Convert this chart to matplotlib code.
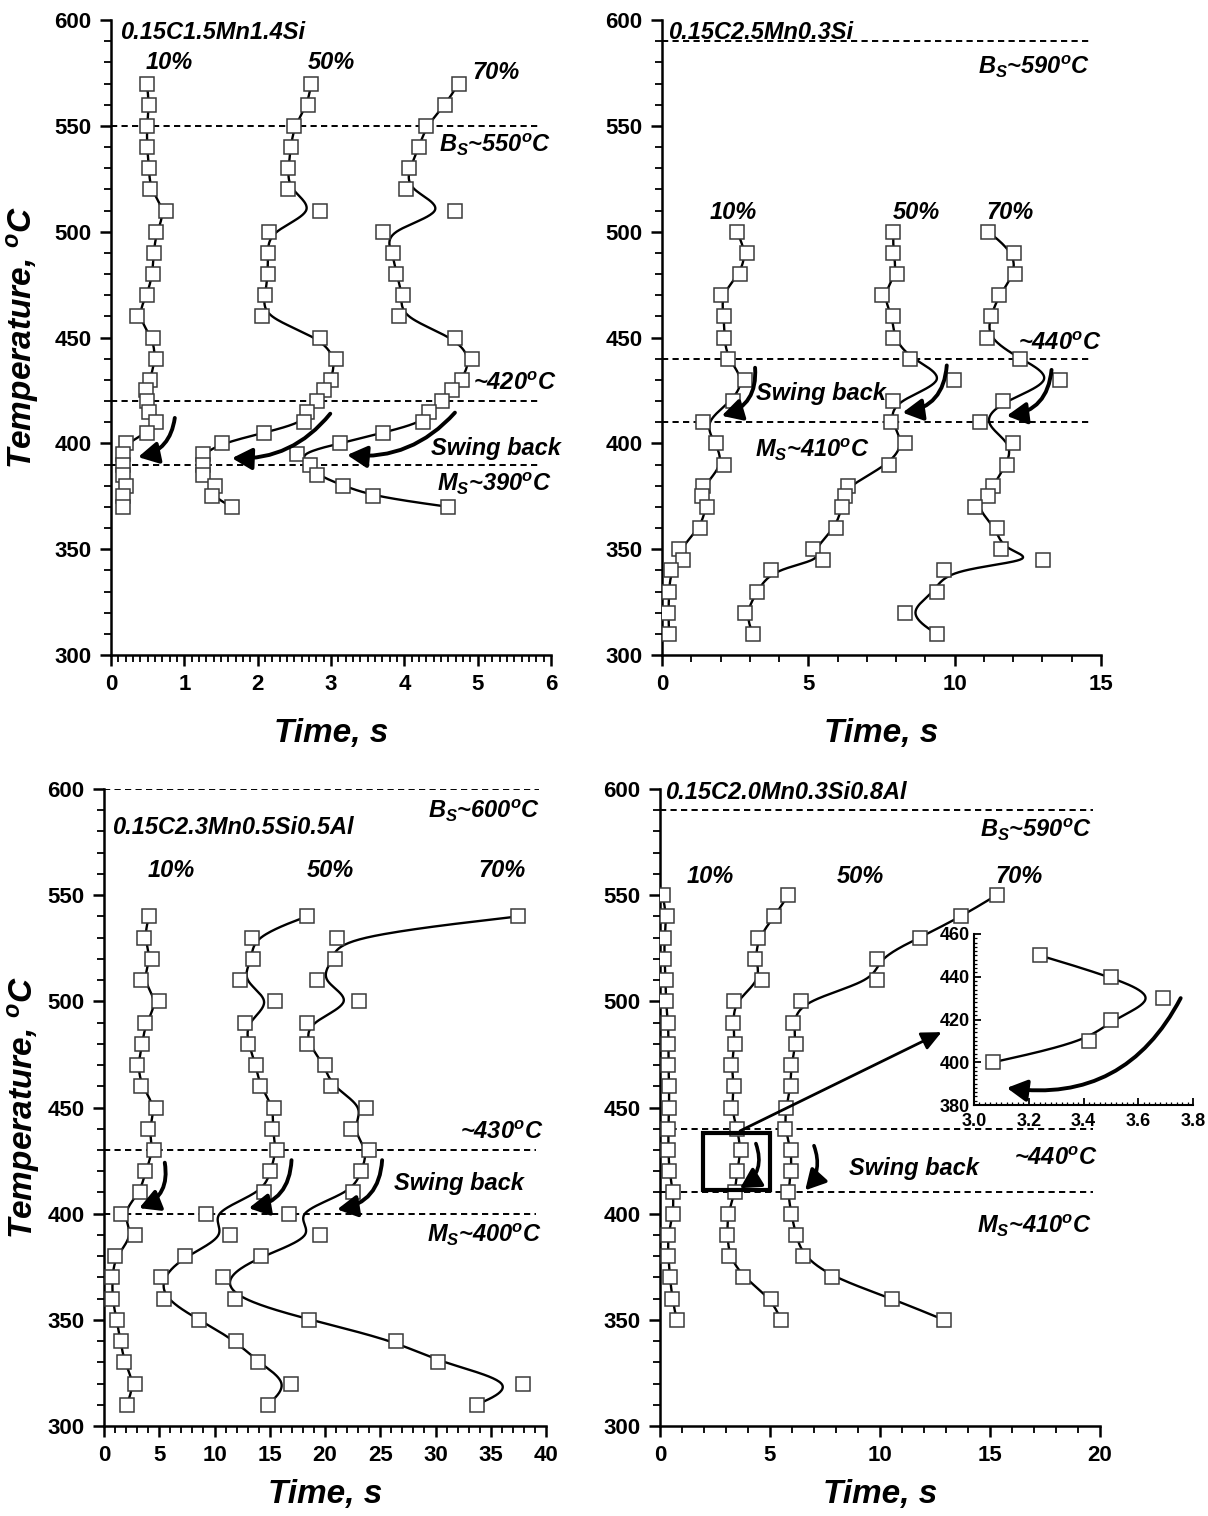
import numpy as np
import matplotlib
matplotlib.use("Agg")
import matplotlib.pyplot as plt
from matplotlib.patches import FancyArrowPatch, Rectangle
from matplotlib.ticker import MultipleLocator

plt.rcParams['font.family'] = ['Liberation Sans', 'DejaVu Sans']
plt.rcParams['mathtext.fontset'] = 'custom'
for k in ['rm', 'it', 'bf', 'sf']:
    plt.rcParams['mathtext.' + k] = 'Liberation Sans:italic:bold'

# ---------------- data ----------------
# Panel 1: 0.15C1.5Mn1.4Si
p1_temp = [570, 560, 550, 540, 530, 520, 510, 500, 490, 480, 470, 460, 450, 440,
           430, 425, 420, 415, 410, 405, 400, 395, 390, 385, 380, 375, 370]
p1_10 = [0.49, 0.52, 0.49, 0.49, 0.52, 0.53, 0.75, 0.62, 0.58, 0.57, 0.49, 0.35, 0.57, 0.61,
         0.53, 0.48, 0.49, 0.52, 0.62, 0.49, 0.21, 0.17, 0.17, 0.17, 0.21, 0.17, 0.17]
p1_50 = [2.73, 2.68, 2.50, 2.45, 2.42, 2.41, 2.85, 2.15, 2.14, 2.14, 2.10, 2.06, 2.85, 3.07,
         3.00, 2.91, 2.81, 2.67, 2.63, 2.09, 1.51, 1.25, 1.25, 1.25, 1.42, 1.38, 1.65]
p1_70 = [4.74, 4.56, 4.30, 4.20, 4.07, 4.02, 4.69, 3.71, 3.84, 3.89, 3.98, 3.93, 4.69, 4.92,
         4.78, 4.65, 4.51, 4.34, 4.25, 3.71, 3.12, 2.54, 2.71, 2.81, 3.17, 3.57, 4.60]

# Panel 2: 0.15C2.5Mn0.3Si
p2_temp = [500, 490, 480, 470, 460, 450, 440, 430, 420, 410, 400, 390, 380, 375, 370,
           360, 350, 345, 340, 330, 320, 310]
p2_10 = [2.55, 2.89, 2.66, 2.00, 2.12, 2.12, 2.24, 2.84, 2.41, 1.41, 1.83, 2.12, 1.41, 1.36,
         1.53, 1.30, 0.58, 0.73, 0.30, 0.24, 0.22, 0.24]
p2_50 = [7.90, 7.90, 8.04, 7.50, 7.90, 7.90, 8.47, 9.98, 7.90, 7.81, 8.30, 7.76, 6.37, 6.25,
         6.14, 5.94, 5.15, 5.49, 3.71, 3.26, 2.84, 3.10]
p2_70 = [11.15, 12.03, 12.06, 11.51, 11.23, 11.09, 12.23, 13.60, 11.64, 10.86, 12.00, 11.78,
         11.30, 11.15, 10.69, 11.43, 11.60, 13.03, 9.63, 9.38, 8.30, 9.38]

# Panel 3: 0.15C2.3Mn0.5Si0.5Al
p3_temp = [540, 530, 520, 510, 500, 490, 480, 470, 460, 450, 440, 430, 420, 410, 400,
           390, 380, 370, 360, 350, 340, 330, 320, 310]
p3_10 = [4.08, 3.60, 4.32, 3.39, 4.95, 3.75, 3.48, 3.03, 3.39, 4.74, 3.99, 4.50, 3.75, 3.30,
         1.50, 2.79, 0.99, 0.75, 0.75, 1.14, 1.50, 1.83, 2.79, 2.04]
p3_50 = [18.35, 13.35, 13.50, 12.30, 15.45, 12.80, 13.05, 13.75, 14.10, 15.40, 15.20, 15.65,
         15.05, 14.45, 9.25, 11.40, 7.30, 5.20, 5.40, 8.60, 11.95, 13.95, 16.90, 14.80]
p3_70 = [37.48, 21.05, 20.87, 19.31, 23.12, 18.35, 18.41, 20.00, 20.51, 23.72, 22.31, 23.96,
         23.27, 22.52, 16.76, 19.52, 14.20, 10.81, 11.86, 18.56, 26.46, 30.27, 37.93, 33.72]

# Panel 4: 0.15C2.0Mn0.3Si0.8Al
p4_temp = [550, 540, 530, 520, 510, 500, 490, 480, 470, 460, 450, 440, 430, 420, 410,
           400, 390, 380, 370, 360, 350]
p4_10 = [0.12, 0.30, 0.20, 0.20, 0.26, 0.26, 0.38, 0.38, 0.38, 0.42, 0.41, 0.38, 0.38, 0.42,
         0.61, 0.61, 0.35, 0.38, 0.45, 0.56, 0.76]
p4_50 = [5.83, 5.20, 4.47, 4.32, 4.62, 3.38, 3.33, 3.41, 3.23, 3.38, 3.24, 3.50, 3.69, 3.50,
         3.42, 3.07, 3.06, 3.14, 3.79, 5.05, 5.50]
p4_70 = [15.30, 13.70, 11.80, 9.85, 9.85, 6.40, 6.05, 6.20, 5.95, 5.95, 5.72, 5.67, 5.97, 5.97,
         5.80, 5.97, 6.17, 6.50, 7.83, 10.55, 12.90]

# Inset (50 % curve of panel 4, 400-450 C)
ins_temp = [450, 440, 430, 420, 410, 400]
ins_time = [3.24, 3.50, 3.69, 3.50, 3.42, 3.07]


# ---------------- helpers ----------------
def bspline(x, y, n=24):
    """Clamped uniform cubic B-spline (Origin-style 'B-Spline' connection)."""
    P = np.column_stack([x, y]).astype(float)
    Q = np.vstack([P[0], P[0], P, P[-1], P[-1]])
    t = np.linspace(0, 1, n, endpoint=False)
    b0 = (1 - t) ** 3 / 6
    b1 = (3 * t ** 3 - 6 * t ** 2 + 4) / 6
    b2 = (-3 * t ** 3 + 3 * t ** 2 + 3 * t + 1) / 6
    b3 = t ** 3 / 6
    segs = []
    for i in range(len(Q) - 3):
        seg = (np.outer(b0, Q[i]) + np.outer(b1, Q[i + 1]) +
               np.outer(b2, Q[i + 2]) + np.outer(b3, Q[i + 3]))
        segs.append(seg)
    segs.append(P[-1][None, :])
    c = np.vstack(segs)
    return c[:, 0], c[:, 1]


def series(ax, time, temp, ms=9.5):
    cx, cy = bspline(time, temp)
    ax.plot(cx, cy, color='black', lw=1.7, zorder=2)
    ax.plot(time, temp, ls='none', marker='s', ms=ms, mfc='white', mec='#3a3a3a',
            mew=1.1, zorder=3)


def hdash(ax, y, x0, x1):
    ax.plot([x0, x1], [y, y], color='black', lw=1.4, ls=(0, (3.2, 2.2)), zorder=1)


def carrow(ax, a, b, rad=-0.4, lw=2.8, hl=0.55, hw=0.3, ms=22):
    arr = FancyArrowPatch(a, b, connectionstyle=f'arc3,rad={rad}',
                          arrowstyle=f'-|>,head_length={hl},head_width={hw}',
                          mutation_scale=ms, lw=lw, color='black', zorder=4,
                          shrinkA=0, shrinkB=0)
    ax.add_patch(arr)


def label(ax, x, y, s, ha='left', size=17):
    ax.text(x, y, s, ha=ha, va='center', fontsize=size, fontweight='bold',
            fontstyle='italic')


def style(ax, xmax, xmajor, xminor, ylabel=True, xpad=16, ypad=10):
    ax.set_xlim(0, xmax)
    ax.set_ylim(300, 600)
    for s in ['top', 'right']:
        ax.spines[s].set_visible(False)
    for s in ['left', 'bottom']:
        ax.spines[s].set_linewidth(1.8)
    ax.xaxis.set_major_locator(MultipleLocator(xmajor))
    ax.xaxis.set_minor_locator(MultipleLocator(xminor))
    ax.yaxis.set_major_locator(MultipleLocator(50))
    ax.yaxis.set_minor_locator(MultipleLocator(10))
    ax.tick_params(which='major', direction='out', length=8, width=1.8,
                   labelsize=16, pad=6)
    ax.tick_params(which='minor', direction='out', length=5, width=1.3)
    for lab in ax.get_xticklabels() + ax.get_yticklabels():
        lab.set_fontweight('bold')
    ax.set_xlabel('Time, s', fontsize=24, fontweight='bold', fontstyle='italic',
                  labelpad=xpad)
    if ylabel:
        ax.set_ylabel('Temperature, $^o$C', fontsize=24, fontweight='bold',
                      fontstyle='italic', labelpad=ypad)


W, H = 1208, 1516
fig = plt.figure(figsize=(W / 100, H / 100), dpi=100)


def add_axes(l, r, t, b):
    return fig.add_axes([l / W, 1 - b / H, (r - l) / W, (b - t) / H])


# ---------------- Panel 1 ----------------
ax1 = add_axes(111, 551, 20, 655)
style(ax1, 6, 1, 0.1)
for y in [550, 420, 390]:
    hdash(ax1, y, 0, 5.86)
series(ax1, p1_10, p1_temp)
series(ax1, p1_50, p1_temp)
series(ax1, p1_70, p1_temp)
carrow(ax1, (0.87, 412), (0.37, 393.5), rad=-0.35)
carrow(ax1, (2.99, 414), (1.65, 393), rad=-0.25)
carrow(ax1, (4.69, 414.5), (3.22, 394.5), rad=-0.25)
label(ax1, 0.12, 594, '0.15C1.5Mn1.4Si')
label(ax1, 0.8, 580, '10%', ha='center')
label(ax1, 3.0, 580, '50%', ha='center')
label(ax1, 5.25, 575, '70%', ha='center')
label(ax1, 4.47, 541, '$B_S$~550$^o$C')
label(ax1, 4.93, 428.5, '~420$^o$C')
label(ax1, 4.37, 397.5, 'Swing back')
label(ax1, 4.45, 381, '$M_S$~390$^o$C')

# ---------------- Panel 2 ----------------
ax2 = add_axes(662, 1101, 20, 655)
style(ax2, 15, 5, 1, ylabel=False)
for y in [590, 440, 410]:
    hdash(ax2, y, 0, 14.68)
series(ax2, p2_10, p2_temp)
series(ax2, p2_50, p2_temp)
series(ax2, p2_70, p2_temp)
carrow(ax2, (3.18, 435.7), (2.04, 413), rad=-0.4)
carrow(ax2, (9.73, 436.8), (8.22, 414.5), rad=-0.4)
carrow(ax2, (13.31, 434.7), (11.78, 413), rad=-0.4)
label(ax2, 0.2, 594, '0.15C2.5Mn0.3Si')
label(ax2, 10.8, 578, '$B_S$~590$^o$C')
label(ax2, 2.43, 509, '10%', ha='center')
label(ax2, 8.68, 509, '50%', ha='center')
label(ax2, 11.88, 509, '70%', ha='center')
label(ax2, 12.17, 447, '~440$^o$C')
label(ax2, 3.21, 423.6, 'Swing back')
label(ax2, 3.18, 397, '$M_S$~410$^o$C')

# ---------------- Panel 3 ----------------
ax3 = add_axes(104, 546, 789, 1426)
style(ax3, 40, 5, 1, xpad=9, ypad=4)
hdash(ax3, 600, 0, 39.4)
for y in [430, 400]:
    hdash(ax3, y, 0, 39.1)
series(ax3, p3_10, p3_temp)
series(ax3, p3_50, p3_temp)
series(ax3, p3_70, p3_temp)
carrow(ax3, (5.5, 424), (3.18, 402.6), rad=-0.4)
carrow(ax3, (16.97, 425.2), (13.1, 402.6), rad=-0.4)
carrow(ax3, (25.17, 425.2), (21.1, 402), rad=-0.4)
label(ax3, 0.72, 582, '0.15C2.3Mn0.5Si0.5Al')
label(ax3, 29.3, 589.5, '$B_S$~600$^o$C')
label(ax3, 6.1, 561.5, '10%', ha='center')
label(ax3, 20.5, 561.5, '50%', ha='center')
label(ax3, 36.0, 561.5, '70%', ha='center')
label(ax3, 32.2, 438, '~430$^o$C')
label(ax3, 26.2, 414.2, 'Swing back')
label(ax3, 29.2, 390, '$M_S$~400$^o$C')

# ---------------- Panel 4 ----------------
ax4 = add_axes(660, 1100, 789, 1426)
style(ax4, 20, 5, 1, ylabel=False, xpad=9)
for y in [590, 440, 410]:
    hdash(ax4, y, 0, 19.7)
series(ax4, p4_10, p4_temp)
series(ax4, p4_50, p4_temp)
series(ax4, p4_70, p4_temp)
ax4.add_patch(Rectangle((1.97, 411.2), 3.03, 27.0, fill=False, lw=3.0,
                        edgecolor='black', zorder=5))
carrow(ax4, (4.36, 433), (3.64, 412), rad=-0.4, lw=2.6)
carrow(ax4, (7.0, 432), (6.6, 411), rad=-0.3, lw=2.6)
carrow(ax4, (3.64, 439), (12.8, 485.5), rad=0.0, lw=2.0, hl=0.6, hw=0.28, ms=20)
label(ax4, 0.23, 598.5, '0.15C2.0Mn0.3Si0.8Al')
label(ax4, 14.55, 580.5, '$B_S$~590$^o$C')
label(ax4, 2.3, 559, '10%', ha='center')
label(ax4, 9.1, 559, '50%', ha='center')
label(ax4, 16.3, 559, '70%', ha='center')
label(ax4, 8.58, 421.3, 'Swing back')
label(ax4, 16.1, 426, '~440$^o$C')
label(ax4, 14.4, 394, '$M_S$~410$^o$C')

# ---------------- Inset ----------------
axi = add_axes(974, 1193, 934, 1105)
axi.patch.set_alpha(0)
axi.set_xlim(3.0, 3.8)
axi.set_ylim(380, 460)
for s in ['top', 'right']:
    axi.spines[s].set_visible(False)
for s in ['left', 'bottom']:
    axi.spines[s].set_linewidth(1.5)
axi.xaxis.set_major_locator(MultipleLocator(0.2))
axi.xaxis.set_minor_locator(MultipleLocator(0.02))
axi.yaxis.set_major_locator(MultipleLocator(20))
axi.yaxis.set_minor_locator(MultipleLocator(2))
axi.tick_params(which='major', direction='in', length=5, width=1.3, labelsize=13)
axi.tick_params(axis='x', which='major', pad=6)
axi.tick_params(axis='y', which='major', pad=3)
axi.tick_params(which='minor', direction='in', length=2.5, width=0.9)
for lab in axi.get_xticklabels() + axi.get_yticklabels():
    lab.set_fontweight('bold')
series(axi, ins_time, ins_temp, ms=9.5)
carrow(axi, (3.755, 430), (3.12, 388), rad=-0.35, lw=2.8)

fig.savefig('out.png', dpi=100)
